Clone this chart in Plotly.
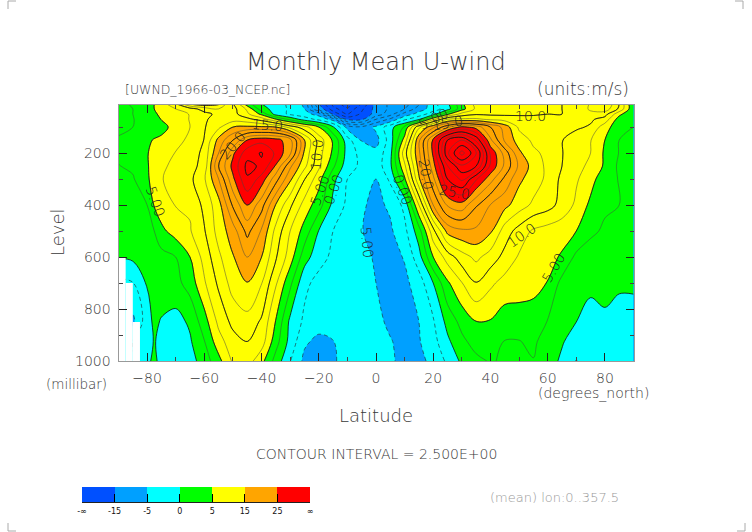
import plotly.graph_objects as go

# latitude grid and pressure levels
lat = [-90, -85, -80, -77.5, -75, -70, -65, -60, -55, -50, -45, -40, -35, -30, -25, -20, -15, -10, -5,
       0, 5, 10, 15, 20, 25, 30, 35, 40, 45, 50, 55, 60, 65, 70, 75, 80, 85, 90]
level = [1000, 925, 850, 700, 600, 500, 400, 300, 250, 200, 150, 100, 70, 50, 30, 10]

# zonal mean U (m/s), one list per level
u1000 = [-3, -3, -0.4, 0.4, -0.6, -1.5, -1.0, 1.2, 4.2, 7.9, 8.7, 5.8, 1.5, -2.4, -5.6, -6.3, -5.6, -3.2, -3.6,
         -4.4, -4.8, -5.4, -5.6, -4.4, -2, 0.5, 1.9, 2.7, 2.2, 2.0, 2.4, 1.0, -0.4, -2.6, -0.8, -1.2, -1, -1]
u925 = [-3, -2.5, -0.3, 0.05, -0.2, -1, -0.3, 2.4, 6.5, 9.0, 10, 8.7, 3.5, -0.9, -4.6, -5.6, -5.1, -3, -3,
        -4, -4.8, -6, -5.2, -3.4, -0.5, 1.9, 3.5, 3.6, 2.4, 2.4, 3.0, 1.2, 0.2, -1, -0.6, -1.3, -1, -1]
u850 = [-4, -5.6, -1.0, 0.5, -0.2, -0.9, 0.4, 3.9, 8.1, 10.7, 11.6, 9.6, 4.8, -0.6, -3, -4, -4, -3.2, -3.6,
        -4.2, -5.6, -6.5, -5, -2.8, 0.8, 3.3, 4.9, 4.8, 3.7, 3.8, 3.5, 2.4, 1.2, 0, -1, -1.2, -1.3, -1]
u700 = [-3, -2.6, 0.2, 1.0, 1.4, 1.7, 3.6, 7.2, 10.5, 13.6, 14.9, 12.6, 7.8, 3.1, -1.9, -3.3, -3.8, -3.8, -4.2,
        -5, -6.8, -5.6, -3.8, 0, 4.6, 7.4, 9.9, 8.0, 6.6, 6.2, 6, 4.9, 1.7, 1.0, 0.6, 2.0, 0.5, 0.4]
u600 = [0.2, 0.5, 1.0, 1.3, 1.6, 2.5, 5.0, 8.4, 12, 14.8, 17.5, 15, 10.3, 6.2, 1.1, -1.6, -3, -3.5, -4.3,
        -5.3, -6, -4.8, -1, 5, 8.6, 11.4, 13.1, 11.4, 9.2, 7.2, 6.5, 5.8, 4.7, 1.9, 1.5, 2.2, 1.5, 1.5]
u500 = [1.2, 1.5, 1.8, 2.5, 4.4, 6.1, 7.3, 9.8, 13.5, 16.3, 20.8, 17.2, 11.7, 7.5, 4.0, -0.1, -2.5, -3.5, -4.9,
        -5.9, -5.4, -3.2, 1.4, 9.2, 15.8, 17, 17, 15.4, 11.3, 9, 7.1, 6.4, 6, 5, 2.9, 2.2, 2, 2]
u400 = [1.8, 2, 2.5, 5.2, 6.4, 7.6, 7.8, 10.7, 14, 20.4, 25, 21, 14.8, 10.5, 6.5, 3.6, -0.7, -3.0, -4.7,
        -5.6, -4.6, -1.8, 7.5, 17.5, 22.8, 24, 20.3, 17.4, 15.7, 13.7, 12, 11, 9.1, 7, 4.4, 2.8, 2.5, 2.3]
u300 = [2, 2.2, 4.8, 5.5, 7.4, 8.2, 9.4, 12.2, 17.5, 24.5, 29.7, 26.4, 21, 15.5, 10.1, 6, 0.7, -2.5, -4.2,
        -5.0, -2, 4.6, 14.6, 21.9, 30, 33, 27.8, 23.5, 19.4, 15.5, 13.8, 11.9, 9.4, 7.8, 6, 3.3, 2.4, 2.2]
u250 = [2.4, 3, 4.8, 5.8, 7, 8.2, 9, 11, 20, 25.8, 30.7, 29.6, 24.7, 18, 13.2, 8, 3, -1.5, -3,
        -4, -0.5, 7, 16, 24, 32.4, 37, 35, 27, 22, 17, 14, 11.9, 10, 8.2, 7, 4.6, 2, 1.8]
u200 = [3, 4, 4.8, 6, 6.4, 7.6, 8.4, 10.8, 17.5, 24.5, 29, 30.2, 27, 23, 14.5, 8.5, 4.5, -1, -3.4,
        -4.2, -0.8, 9, 17, 25.5, 37, 43.5, 38, 27, 21.5, 15.5, 13, 11.9, 10.1, 8.6, 7.5, 4.6, 2.4, 2]
u150 = [3, 3, 4.5, 5.2, 5.5, 6.9, 7.9, 10.1, 15.8, 20, 25, 26.6, 26, 23.5, 15, 9, 4.6, -1.5, -5.2,
        -6, -1.2, 6, 17, 25.5, 35, 37.5, 32, 23, 17, 13.9, 12, 11, 10.1, 8.7, 7.6, 5, 2.5, 2]
u100 = [1.5, 2.5, 3, 3.5, 4.2, 5.9, 7.5, 9.8, 12, 15, 15.5, 15.4, 15, 11.5, 8.5, 5, 0.3, -5.8, -7,
        -4.4, -1, 3, 12, 17, 22, 25.6, 24, 20, 16.5, 12, 11.5, 11, 10.7, 10.4, 9.7, 6, 3.5, 2.5]
u70 = [1.5, 2.4, 3.5, 4, 5.1, 6.5, 7.6, 9.6, 11.2, 11.5, 10.8, 8.9, 5.2, 1.8, -1.2, -3.2, -6, -15.5, -15.5,
       -10, -7, -3, -0.4, 7, 12.5, 13, 13, 12, 11.5, 11, 10.8, 10.5, 10.2, 10.1, 10.4, 9, 3.8, 3]
u50 = [1.5, 2.5, 3.8, 4.5, 5.7, 6.7, 7.6, 9.3, 10.6, 11, 8, 4.4, -1, -3, -4, -6, -15.5, -20, -17,
       -14, -11, -6.5, -4, -1, 4.5, 8.5, 9.7, 9.5, 9.5, 9.6, 9.7, 10, 10, 11, 12, 11, 5.7, 2.5]
u30 = [1.5, 2.5, 4.5, 5, 5.5, 7.5, 9, 11, 12.5, 11, 7, 1, -1, -3, -5, -13, -19, -22, -18,
       -14, -12, -10, -6.2, -3.8, -1, 4, 8, 9, 9.2, 9.3, 9.5, 9.7, 10, 11.2, 12.8, 14, 9.5, 3]
u10 = [1.5, 3, 4.4, 5, 6.3, 10, 15.5, 17, 15.5, 10, 3.5, 0, -1.5, -3, -5.5, -15, -21, -24, -20,
       -14, -12, -11, -8, -3, -0.4, 4.5, 8.5, 9, 9.2, 9.4, 9.6, 9.8, 10, 10.8, 12.7, 15.3, 10, 2.5]
u = [u1000, u925, u850, u700, u600, u500, u400, u300, u250, u200, u150, u100, u70, u50, u30, u10]

# columns with no data in the lower left corner
gap_lat = [-88.75, -86.25, -83.75]
gap_top = [600, 700, 850]
gap_depth = [400, 300, 150]

# colour bands
band_edges = [-15, -5, 0, 5, 15, 25]
band_colors = ["#0050ff", "#00a0ff", "#00ffff", "#00ff00", "#ffff00", "#ffa500", "#ff0000"]
band_mid = [-20, -10, -2.5, 2.5, 10, 20, 30]
band_labels = ["-∞", "-15", "-5", "0", "5", "15", "25", "∞"]

# contour labels
label_text = ["5.00", "15.0", "20.0", "10.0", "5.00", "0.00", "5.00", "0.00", "20.0", "25.0", "5.00", "15.0", "10.0", "10.0", "5.00"]
label_lat = [-77.2, -38, -50, -20.6, -19.6, -15, -3.1, 9.4, 17.5, 27.6, 20, 25, 54, 51, 62]
label_lev = [385, 92, 169, 208, 342, 342, 542, 342, 280, 350, 70, 85, 58, 515, 642]
label_angle = [70, 5, -50, -85, -70, -70, 85, 70, 80, 10, -25, -10, 0, -35, -60]

lat_ticks = [-80, -60, -40, -20, 0, 20, 40, 60, 80]
lat_ticktext = ["−80", "−60", "−40", "−20", "0", "20", "40", "60", "80"]
lat_minor = [-70, -50, -30, -10, 10, 30, 50, 70]
lev_ticks = [200, 400, 600, 800, 1000]
lev_minor = [100, 300, 500, 700, 900]

FONT = "DejaVu Sans"
INK = "#383838"
W, H = 752, 532

zmin, zmax = -40, 60
def norm(v):
    return (v - zmin) / (zmax - zmin)

scale = []
edges = [zmin] + band_edges + [zmax]
for i, c in enumerate(band_colors):
    scale.append([norm(edges[i]), c])
    scale.append([norm(edges[i + 1]), c])

fig = go.Figure()

fig.add_trace(go.Contour(x=lat, y=level, z=u, zmin=zmin, zmax=zmax, colorscale=scale, showscale=False,
                         contours=dict(start=-40, end=60, size=2.5, coloring="fill", showlines=False),
                         line=dict(width=0), hoverinfo="skip"))
# thin lines every 2.5, darker every 5, dashed below zero
fig.add_trace(go.Contour(x=lat, y=level, z=u, showscale=False, hoverinfo="skip",
                         contours=dict(start=2.5, end=60, size=2.5, coloring="none"),
                         line=dict(color="#444444", width=0.5)))
fig.add_trace(go.Contour(x=lat, y=level, z=u, showscale=False, hoverinfo="skip",
                         contours=dict(start=0, end=60, size=5, coloring="none"),
                         line=dict(color="#111111", width=0.8)))
fig.add_trace(go.Contour(x=lat, y=level, z=u, showscale=False, hoverinfo="skip",
                         contours=dict(start=-40, end=-2.5, size=2.5, coloring="none"),
                         line=dict(color="#222222", width=0.6, dash="4px,3px")))
# white bars sit above the contour layer and blank the missing cells
fig.add_trace(go.Bar(x=gap_lat, y=gap_depth, base=gap_top, width=2.5, marker=dict(color="white", line=dict(width=0)),
                     hoverinfo="skip"))

# colour key
fig.add_trace(go.Heatmap(x=list(range(8)), y=[0, 1], z=[band_mid], zmin=zmin, zmax=zmax, colorscale=scale,
                         showscale=False, hoverinfo="skip", xaxis="x2", yaxis="y2"))

fig.update_layout(
    template="none",
    width=W, height=H, margin=dict(l=0, r=0, t=0, b=0, autoexpand=False), paper_bgcolor="white", plot_bgcolor="white",
    showlegend=False, font=dict(family=FONT, color=INK),
    xaxis=dict(domain=[118.5 / W, 633.5 / W], range=[-90, 90], tickmode="array", tickvals=lat_ticks,
               ticktext=lat_ticktext, ticks="inside", ticklen=8, tickcolor="#222222", tickwidth=1,
               minor=dict(tickmode="array", tickvals=lat_minor, ticks="inside", ticklen=4, tickcolor="#444444"),
               showgrid=False, zeroline=False, showline=True, linecolor="#999999", linewidth=1, mirror="ticks",
               tickfont=dict(size=14, color=INK, weight=200), ticklabelstandoff=4, automargin=False),
    yaxis=dict(domain=[(H - 361) / H, (H - 105) / H], range=[1000, 15], tickmode="array", tickvals=lev_ticks,
               ticks="inside", ticklen=8, tickcolor="#222222", tickwidth=1,
               minor=dict(tickmode="array", tickvals=lev_minor, ticks="inside", ticklen=4, tickcolor="#444444"),
               showgrid=False, zeroline=False, showline=True, linecolor="#999999", linewidth=1, mirror="ticks",
               tickfont=dict(size=14, color=INK, weight=200), ticklabelstandoff=4, automargin=False),
    xaxis2=dict(domain=[82 / W, 310 / W], range=[0, 7], anchor="y2", tickmode="array", tickvals=list(range(8)),
                ticktext=band_labels, ticks="inside", ticklen=8, tickcolor="#000000", tickwidth=1,
                tickfont=dict(size=8, color="#111111"), showgrid=False, zeroline=False,
                showline=True, linecolor="#222222", linewidth=1, ticklabelstandoff=1, automargin=False),
    yaxis2=dict(domain=[(H - 502) / H, (H - 487) / H], range=[0, 1], anchor="x2", visible=False),
)

def page_text(text, x, y, size, anchor="center", color=INK, angle=0):
    fig.add_annotation(text=text, xref="paper", yref="paper", x=x / W, y=1 - y / H, showarrow=False,
                       xanchor=anchor, yanchor="middle", textangle=angle, borderpad=0,
                       font=dict(family=FONT, size=size, color=color, weight=200))

page_text("Monthly Mean U-wind", 376, 62, 24)
page_text("[UWND_1966-03_NCEP.nc]", 124, 89, 12.5, anchor="left")
page_text("(units:m/s)", 630, 89, 17, anchor="right")
page_text("Level", 57, 232, 18, angle=-90)
page_text("(millibar)", 108, 384, 13.5, anchor="right")
page_text("Latitude", 376, 415, 18)
page_text("(degrees_north)", 650, 393, 14, anchor="right")
page_text("CONTOUR INTERVAL = 2.500E+00", 376, 454, 14)
page_text("(mean) lon:0..357.5", 620, 497, 13, anchor="right", color="#999999")

for t, la, le, an in zip(label_text, label_lat, label_lev, label_angle):
    fig.add_annotation(text=t, x=la, y=le, xref="x", yref="y", showarrow=False, textangle=an,
                       font=dict(family=FONT, size=14, color="#222222", weight=200))

# crop marks in the page corners
for x0, y0, x1, y1, x2, y2 in [(16, 1, 8, 1, 8, 9), (735, 1, 743, 1, 743, 9),
                               (8, 523, 8, 531, 16, 531), (745, 523, 745, 531, 737, 531)]:
    fig.add_shape(type="path", xref="paper", yref="paper",
                  path=f"M{x0 / W},{1 - y0 / H} L{x1 / W},{1 - y1 / H} L{x2 / W},{1 - y2 / H}",
                  line=dict(color="#aaaaaa", width=1))

fig.write_html("out.html", config={"displayModeBar": False},
               post_script="document.body.style.margin='0';document.documentElement.style.overflow='hidden';")
